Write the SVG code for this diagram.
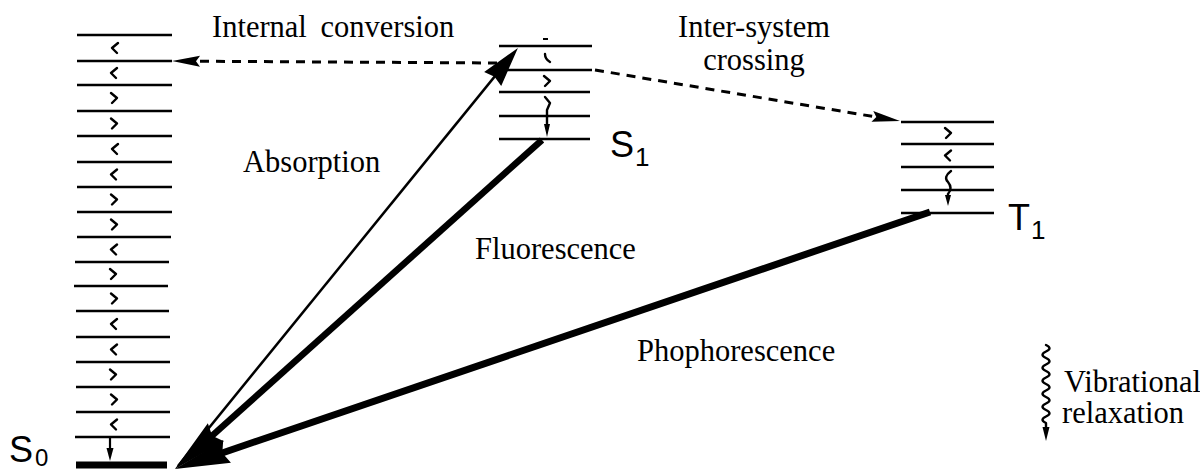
<svg xmlns="http://www.w3.org/2000/svg" width="1200" height="472" viewBox="0 0 1200 472">
<style>
.lvl{stroke:#000;stroke-width:2.6;fill:none}
.sq{stroke:#000;stroke-width:2.4;fill:none;stroke-linecap:round;stroke-linejoin:round}
.lbl{font-family:"Liberation Serif","Times New Roman",serif;font-size:30.5px;fill:#000}
.st{font-family:"Liberation Sans",Arial,sans-serif;fill:#000}
.dash{stroke:#000;stroke-width:3;stroke-dasharray:9 7;fill:none}
.head{fill:#000;stroke:none}
</style>
<defs>
<marker id="mAbs" markerUnits="userSpaceOnUse" markerWidth="42" markerHeight="24" refX="4" refY="11" orient="auto" overflow="visible"><path class="head" d="M0,0 L40,11 L0,22 L3,11 z"/></marker>
<marker id="mBig" markerUnits="userSpaceOnUse" markerWidth="56" markerHeight="26" refX="6" refY="12" orient="auto" overflow="visible"><path class="head" d="M0,0 L55,12 L0,24 L5,12 z"/></marker>
<marker id="mDash" markerUnits="userSpaceOnUse" markerWidth="29" markerHeight="12" refX="5" refY="5.5" orient="auto" overflow="visible"><path class="head" d="M0,0 L28,5.5 L0,11 L4,5.5 z"/></marker>
<path id="sqL" class="sq" d="M3,-5 L-3,0 L2,5"/>
<path id="sqR" class="sq" d="M-3,-5 L3,0 L-2,5"/>
</defs>

<g id="S0">
<g class="lvl">
<line x1="77" y1="35" x2="172" y2="35"/>
<line x1="77" y1="61" x2="172" y2="61"/>
<line x1="77" y1="85" x2="172" y2="85"/>
<line x1="77" y1="111" x2="172" y2="111"/>
<line x1="77" y1="136" x2="172" y2="136"/>
<line x1="77" y1="162" x2="172" y2="162"/>
<line x1="77" y1="187" x2="172" y2="187"/>
<line x1="77" y1="212" x2="172" y2="212"/>
<line x1="77" y1="237" x2="171" y2="237"/>
<line x1="75" y1="262" x2="169" y2="262"/>
<line x1="74" y1="286" x2="168" y2="286"/>
<line x1="76" y1="311" x2="169" y2="311"/>
<line x1="76" y1="337" x2="170" y2="337"/>
<line x1="76" y1="362" x2="170" y2="362"/>
<line x1="76" y1="387" x2="170" y2="387"/>
<line x1="76" y1="412" x2="170" y2="412"/>
<line x1="75" y1="437" x2="170" y2="437"/>
</g>
<line x1="76" y1="465" x2="167" y2="465" stroke="#000" stroke-width="7"/>
<use href="#sqL" x="115" y="48"/>
<use href="#sqL" x="114" y="73"/>
<use href="#sqR" x="114" y="98"/>
<use href="#sqR" x="114" y="123.5"/>
<use href="#sqL" x="115" y="149"/>
<use href="#sqL" x="114" y="174.5"/>
<use href="#sqR" x="114" y="199.5"/>
<use href="#sqR" x="114" y="224.5"/>
<use href="#sqL" x="114" y="249.5"/>
<use href="#sqR" x="113" y="274"/>
<use href="#sqR" x="114" y="298.5"/>
<use href="#sqL" x="114" y="324"/>
<use href="#sqL" x="114" y="349.5"/>
<use href="#sqR" x="113" y="374.5"/>
<use href="#sqR" x="114" y="399.5"/>
<use href="#sqL" x="114" y="424.5"/>
<line x1="110" y1="437" x2="110" y2="450" stroke="#000" stroke-width="2.2"/>
<polygon class="head" points="106.5,448 113.5,448 110,461"/>
<text class="st" x="9" y="462" font-size="36">S</text>
<text class="st" x="35" y="466" font-size="24">0</text>
</g>

<g id="S1">
<g class="lvl">
<line x1="499" y1="46" x2="592" y2="46"/>
<line x1="499" y1="70" x2="592" y2="70"/>
<line x1="499" y1="92" x2="590" y2="92"/>
<line x1="499" y1="116" x2="590" y2="116"/>
<line x1="499" y1="139" x2="590" y2="139"/>
</g>
<line x1="543" y1="39" x2="548" y2="39" stroke="#000" stroke-width="2"/>
<path class="sq" d="M545,54 Q545,59 550,62"/>
<use href="#sqR" x="547" y="81"/>
<path class="sq" d="M545,97 L550,103 L547,110 L547,126"/>
<polygon class="head" points="544,124 550,124 547,137"/>
<text class="st" x="610" y="157" font-size="36">S</text>
<text class="st" x="635" y="166" font-size="26">1</text>
</g>

<g id="T1">
<g class="lvl">
<line x1="901" y1="122" x2="994" y2="122"/>
<line x1="901" y1="144" x2="994" y2="144"/>
<line x1="901" y1="167" x2="994" y2="167"/>
<line x1="901" y1="190" x2="994" y2="190"/>
<line x1="901" y1="213" x2="994" y2="213"/>
</g>
<use href="#sqR" x="948" y="133"/>
<use href="#sqL" x="948" y="155.5"/>
<path class="sq" d="M951,171 Q943,177 948,182 Q953,188 948,194 L948,197"/>
<polygon class="head" points="945,195 951,195 948,206"/>
<text class="st" x="1008" y="230" font-size="36">T</text>
<text class="st" x="1031" y="239" font-size="26">1</text>
</g>

<g id="connectors">
<line x1="178" y1="466" x2="495.2" y2="75.9" stroke="#000" stroke-width="2.5" marker-end="url(#mAbs)"/>
<line x1="542" y1="140" x2="211.4" y2="436.3" stroke="#000" stroke-width="6.5" marker-end="url(#mBig)"/>
<line x1="930" y1="212" x2="221.4" y2="453.2" stroke="#000" stroke-width="7" marker-end="url(#mBig)"/>
<line class="dash" x1="497" y1="63" x2="195" y2="61.2" marker-end="url(#mDash)"/>
<line class="dash" x1="595" y1="70" x2="877.3" y2="117.2" marker-end="url(#mDash)"/>
</g>

<g id="connector-labels">
<text class="lbl" x="212" y="37" word-spacing="6">Internal conversion</text>
<text class="lbl" x="754" y="37" text-anchor="middle">Inter-system</text>
<text class="lbl" x="754" y="70" text-anchor="middle">crossing</text>
<text class="lbl" x="243" y="172">Absorption</text>
<text class="lbl" x="475" y="259">Fluorescence</text>
<text class="lbl" x="637" y="361">Phophorescence</text>
</g>

<g id="legend">
<path class="sq" d="M1046,345 q7,3.25 0,6.5 t0,6.5 t0,6.5 t0,6.5 t0,6.5 t0,6.5 t0,6.5 t0,6.5 t0,6.5 t0,6.5 t0,6.5 t0,6.5 L1046,429"/>
<polygon class="head" points="1042.5,427 1049.5,427 1046,441"/>
<text class="lbl" x="1064" y="392" font-size="27">Vibrational</text>
<text class="lbl" x="1062" y="423" font-size="27">relaxation</text>
</g>
</svg>
